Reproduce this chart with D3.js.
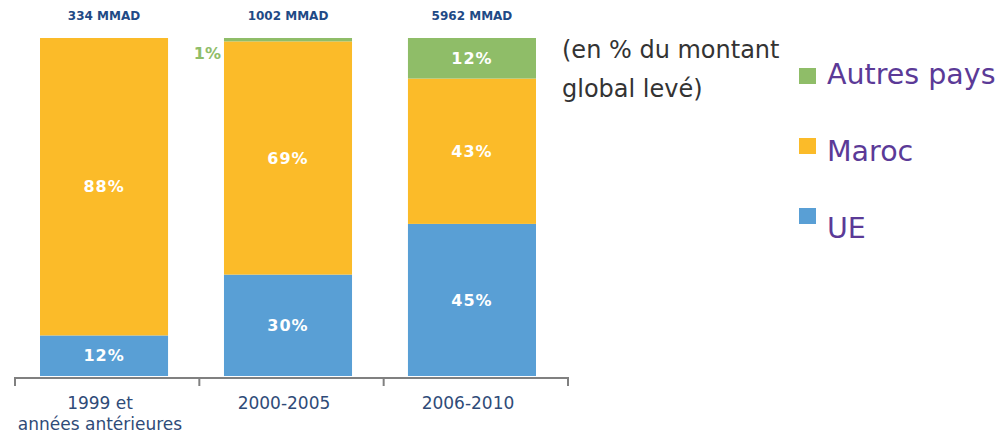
<!DOCTYPE html>
<html>
<head>
<meta charset="utf-8">
<script src="https://cdn.jsdelivr.net/npm/d3@7"></script>
<style>
  body { margin: 0; background: #fff; }
  text { font-family: "DejaVu Sans", sans-serif; }
</style>
</head>
<body>
<div id="chart"></div>
<script>
// data
const categories = ["1999 et|années antérieures", "2000-2005", "2006-2010"];
const totals = ["334 MMAD", "1002 MMAD", "5962 MMAD"];
const ue = [12, 30, 45];
const maroc = [88, 69, 43];
const autres = [0, 1, 12];
const seriesNames = ["UE", "Maroc", "Autres pays"];
const colors = ["#599fd5", "#fbbb29", "#8fbd68"];

const width = 1008, height = 435;
const svg = d3.select("#chart").append("svg")
  .attr("width", width)
  .attr("height", height);

const rows = categories.map((c, i) => ({
  cat: c, "UE": ue[i], "Maroc": maroc[i], "Autres pays": autres[i]
}));
const stacked = d3.stack().keys(seriesNames)(rows);

const x = d3.scaleBand().domain(categories).range([40, 536]).paddingInner(0.304).paddingOuter(0);
const y = d3.scaleLinear().domain([0, 100]).range([376, 38]);
const color = d3.scaleOrdinal().domain(seriesNames).range(colors);

// bars
const layer = svg.selectAll("g.layer")
  .data(stacked)
  .enter().append("g")
  .attr("fill", d => color(d.key));

layer.selectAll("rect")
  .data(d => d)
  .enter().append("rect")
  .attr("x", d => x(d.data.cat))
  .attr("width", x.bandwidth())
  .attr("y", d => y(d[1]))
  .attr("height", d => y(d[0]) - y(d[1]));

// value labels inside bars (skip tiny segments)
stacked.forEach(s => {
  s.forEach(d => {
    const v = d[1] - d[0];
    if (v >= 5) {
      svg.append("text")
        .attr("x", x(d.data.cat) + x.bandwidth() / 2)
        .attr("y", (y(d[0]) + y(d[1])) / 2)
        .attr("dy", "0.36em")
        .attr("text-anchor", "middle")
        .attr("fill", "#fff")
        .attr("font-weight", "bold")
        .attr("font-size", 16)
        .attr("letter-spacing", 1)
        .text(v + "%");
    }
  });
});

// small segment label outside (1%)
stacked[2].forEach(d => {
  const v = d[1] - d[0];
  if (v > 0 && v < 5) {
    svg.append("text")
      .attr("x", x(d.data.cat) - 3)
      .attr("y", y(d[1]) + 21)
      .attr("text-anchor", "end")
      .attr("fill", "#8fbd68")
      .attr("font-weight", "bold")
      .attr("font-size", 16)
      .text(v + "%");
  }
});

// totals above bars
svg.selectAll("text.total")
  .data(categories)
  .enter().append("text")
  .attr("x", d => x(d) + x.bandwidth() / 2)
  .attr("y", 20)
  .attr("text-anchor", "middle")
  .attr("fill", "#1f4a86")
  .attr("font-weight", "bold")
  .attr("font-size", 12)
  .text((d, i) => totals[i]);

// x axis: baseline with ticks between groups
const tickPos = d3.range(categories.length + 1).map(i => 15 + i * (553 / 3));
svg.append("line")
  .attr("x1", 15).attr("x2", 568)
  .attr("y1", 378).attr("y2", 378)
  .attr("stroke", "#808080").attr("stroke-width", 2);
svg.selectAll("line.tick")
  .data(tickPos)
  .enter().append("line")
  .attr("x1", d => d).attr("x2", d => d)
  .attr("y1", 377).attr("y2", 386)
  .attr("stroke", "#808080").attr("stroke-width", 2);

svg.selectAll("text.cat")
  .data(categories)
  .enter().append("text")
  .attr("text-anchor", "middle")
  .attr("fill", "#2f4b78")
  .attr("font-size", 17)
  .each(function (d) {
    const t = d3.select(this);
    const cx = x(d) + x.bandwidth() / 2 - 4;
    d.split("|").forEach((line, j) => {
      t.append("tspan")
        .attr("x", cx)
        .attr("y", 409 + j * 21)
        .text(line);
    });
  });

// subtitle
svg.append("text")
  .attr("fill", "#333")
  .attr("font-size", 24)
  .selectAll("tspan")
  .data(["(en % du montant", "global levé)"])
  .enter().append("tspan")
  .attr("x", 562)
  .attr("y", (d, i) => 58 + i * 39)
  .text(d => d);

// legend
const legendOrder = ["Autres pays", "Maroc", "UE"];
const lg = svg.selectAll("g.legend")
  .data(legendOrder)
  .enter().append("g");
lg.append("rect")
  .attr("x", 799)
  .attr("y", (d, i) => 68 + i * 70)
  .attr("width", 17).attr("height", 16)
  .attr("fill", d => color(d));
lg.append("text")
  .attr("x", 827)
  .attr("y", (d, i) => 84 + i * 77)
  .attr("fill", "#5b3a97")
  .attr("font-size", 28.5)
  .text(d => d);
</script>
</body>
</html>
